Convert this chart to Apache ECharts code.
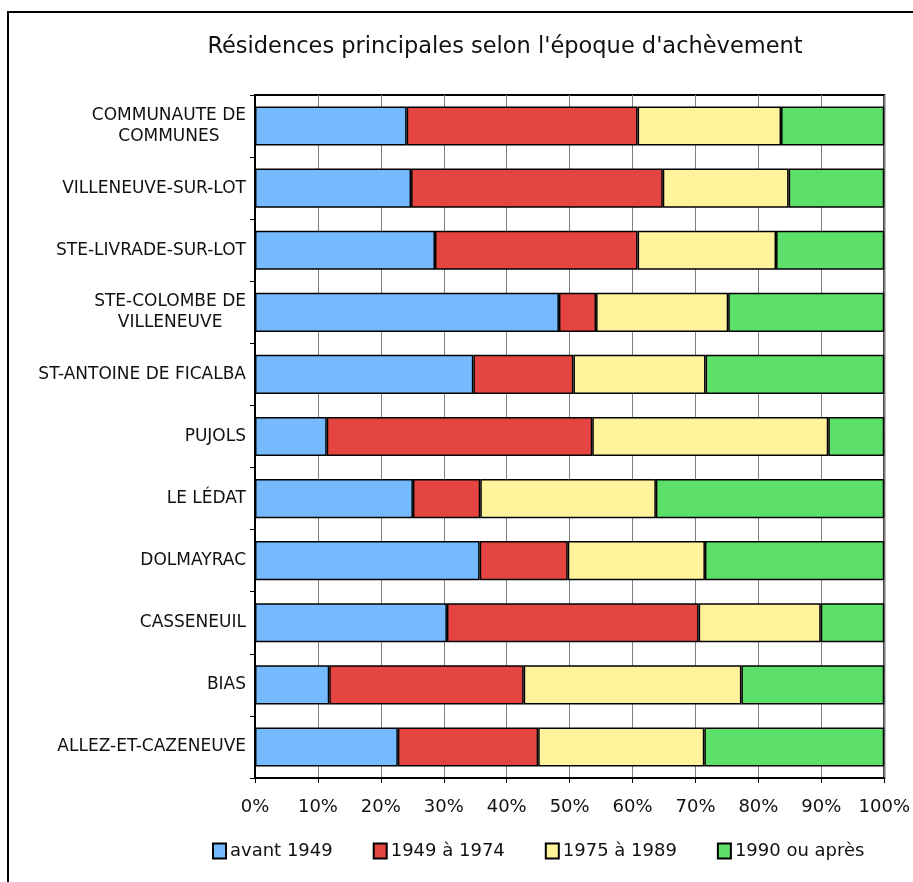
<!DOCTYPE html>
<html>
<head>
<meta charset="utf-8">
<script src="https://cdn.jsdelivr.net/npm/echarts@6/dist/echarts.min.js"></script>
<style>
html,body{margin:0;padding:0;background:#fff;}
#main{width:913px;height:882px;}
</style>
</head>
<body>
<div id="main"></div>
<script>
const titleText = "Résidences principales selon l'époque d'achèvement";
const categories = ["COMMUNAUTE DE\nCOMMUNES","VILLENEUVE-SUR-LOT","STE-LIVRADE-SUR-LOT","STE-COLOMBE DE\nVILLENEUVE","ST-ANTOINE DE FICALBA","PUJOLS","LE LÉDAT","DOLMAYRAC","CASSENEUIL","BIAS","ALLEZ-ET-CAZENEUVE"];
const seriesNames = ["avant 1949","1949 à 1974","1975 à 1989","1990 ou après"];
const avant1949 = [24.1,24.8,28.6,48.3,34.7,11.4,25.1,35.7,30.5,11.8,22.7];
const de1949a1974 = [36.7,40.0,32.2,5.9,15.9,42.2,10.7,14.0,40.0,30.9,22.3];
const de1975a1989 = [22.8,20.0,22.0,21.0,21.0,37.5,27.9,21.8,19.4,34.6,26.4];
const apres1990 = [16.4,15.2,17.2,24.8,28.4,8.9,36.3,28.5,10.1,22.7,28.6];
const xTicks = [0,10,20,30,40,50,60,70,80,90,100];
const colors = ["#75B9FF","#E54541","#FFF49C","#5CE06A"];

const FONT = "DejaVu Sans";
const chart = echarts.init(document.getElementById('main'), null, {renderer:'canvas'});
const dataSets = [avant1949, de1949a1974, de1975a1989, apres1990];
chart.setOption({
  animation:false,
  backgroundColor:'#fff',
  color: colors,
  textStyle:{fontFamily:FONT},
  title:{
    text:titleText,
    left:500, textAlign:'center', top:31,
    textStyle:{fontFamily:FONT,fontSize:22.5,fontWeight:'normal',color:'#111'}
  },
  graphic:[{
    type:'rect', silent:true, z:-1,
    shape:{x:8,y:12,width:1000,height:1000},
    style:{fill:'none',stroke:'#000',lineWidth:2}
  }],
  legend:{
    left:212, top:842, padding:0,
    itemWidth:13, itemHeight:15, itemGap:40,
    icon:'rect',
    data:seriesNames,
    textStyle:{fontFamily:FONT,fontSize:18,color:'#111',padding:[0,0,0,-1]}
  },
  grid:{left:255,right:25,top:95,bottom:104,show:true,borderColor:'#000',borderWidth:2,backgroundColor:'transparent'},
  xAxis:{
    type:'value', min:xTicks[0], max:xTicks[xTicks.length-1], interval:10,
    axisLine:{show:true,lineStyle:{color:'#000',width:2}},
    axisTick:{show:true,length:5,lineStyle:{color:'#000',width:1}},
    splitLine:{show:true,lineStyle:{color:'#808080',width:1}},
    axisLabel:{formatter:'{value}%',fontFamily:FONT,fontSize:18,color:'#111',margin:20}
  },
  yAxis:{
    type:'category', inverse:true, data:categories,
    axisLine:{show:true,lineStyle:{color:'#000',width:2}},
    axisTick:{show:true,length:5,lineStyle:{color:'#000',width:1}},
    splitLine:{show:false},
    axisLabel:{
      margin:9, fontFamily:FONT, fontSize:17, color:'#111', lineHeight:21.5,
      formatter:function(v){return v.split('\n').map(s=>'{c|'+s+'}').join('\n');},
      rich:{c:{align:'center',fontFamily:FONT,fontSize:17,color:'#111',lineHeight:21.5}}
    }
  },
  series: seriesNames.map((n,i)=>({
    name:n, type:'bar', stack:'total', data:dataSets[i], barWidth:'63%',
    itemStyle:{color:colors[i],borderColor:'#000',borderWidth:1.5}
  }))
});
</script>
</body>
</html>
